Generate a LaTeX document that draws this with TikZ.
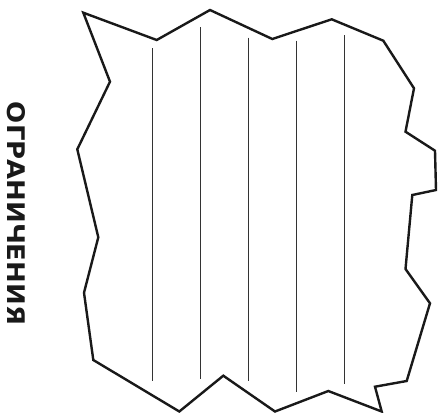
\documentclass[tikz,border=0pt]{standalone}
\usepackage{fontspec}
\setmainfont{DejaVu Sans}
\newfontfamily\labelfont{DejaVu Sans}
\tikzset{
  outline/.style={line width=2.4pt, line join=miter, draw=black!90},
  stripe/.style={line width=1.1pt, draw=black!80},
  sidelabel/.style={font=\labelfont\bfseries, rotate=-90, inner sep=0pt, text=black!90}
}
\begin{document}
\begin{tikzpicture}[x=1pt,y=-1pt]
\useasboundingbox (0,0) rectangle (440,413);
\draw[outline] (83.3,12.7) -- (156.7,40) -- (210,10) -- (272.3,39) -- (331.7,19.3) -- (383.3,40.7) -- (414,88.3) -- (405.5,131.7) -- (435,150.7) -- (436,190) -- (412.3,195) -- (405.5,269) -- (430,303.3) -- (406.7,381) -- (375,386.7) -- (381.7,411.5) -- (328.3,391) -- (275,411.5) -- (223.3,375.7) -- (179.3,411.5) -- (93.3,360) -- (84,292.7) -- (98.3,237.3) -- (77.3,149.3) -- (110,81.7) -- cycle;
\coordinate (s1t) at (152.6,48.3);  \coordinate (s1b) at (152.6,381);
\coordinate (s2t) at (200.3,27.3);  \coordinate (s2b) at (200.3,378.7);
\coordinate (s3t) at (248.5,37.7);  \coordinate (s3b) at (248.5,381);
\coordinate (s4t) at (296.3,40.7);  \coordinate (s4b) at (296.3,392.3);
\coordinate (s5t) at (344.7,35);    \coordinate (s5b) at (344.7,384.3);
\draw[stripe] (s1t) -- (s1b);
\draw[stripe] (s2t) -- (s2b);
\draw[stripe] (s3t) -- (s3b);
\draw[stripe] (s4t) -- (s4b);
\draw[stripe] (s5t) -- (s5b);
\node[sidelabel] (lbl) at (16.5,213.5) {\resizebox{223pt}{18pt}{ОГРАНИЧЕНИЯ}};
\end{tikzpicture}
\end{document}
